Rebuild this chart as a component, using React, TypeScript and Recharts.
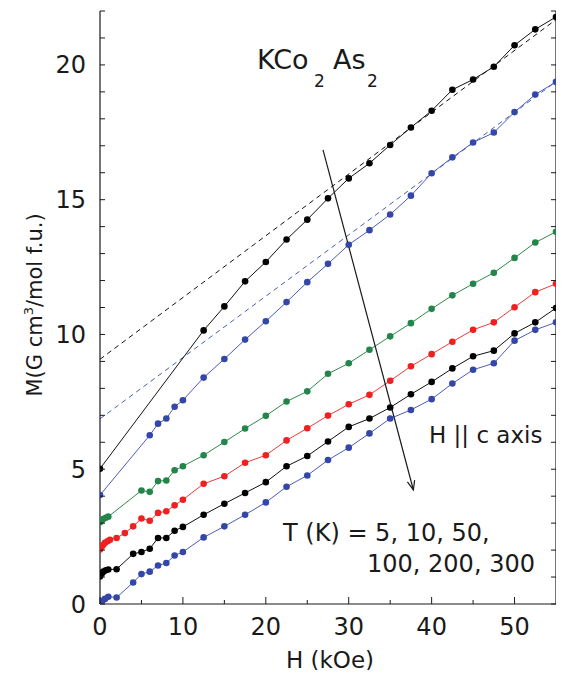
import React from 'react';
import { LineChart, Line, XAxis, YAxis, ReferenceLine } from 'recharts';

const FONT = '"DejaVu Sans", Verdana, sans-serif';
const INK = '#1a1a1a';

// layout constants
const CHART_W = 549;
const CHART_H = 662;
const Y_AXIS_W = 92;
const MARGIN_R = 1;
const PLOT_W = CHART_W - Y_AXIS_W - MARGIN_R;

// field values (kOe) shared by all temperatures above 10 kOe
const H_HIGH = [12.5, 15, 17.5, 20, 22.5, 25, 27.5, 30, 32.5, 35, 37.5, 40, 42.5, 45, 47.5, 50, 52.5, 55];

// low-field values per temperature
const H_LOW_5K = [0];
const H_LOW_10K = [0, 6, 7, 8, 9, 10];
const H_LOW_50K = [0, 0.2, 0.4, 0.7, 1.0, 5, 6, 7, 8, 9, 10];
const H_LOW_100K = [0, 0.2, 0.4, 0.6, 0.9, 1.2, 2, 3, 4, 5, 6, 7, 8, 9, 10];
const H_LOW_200K = [0, 0.2, 0.4, 0.7, 1.0, 2, 4, 5, 6, 7, 8, 9, 10];
const H_LOW_300K = [0, 0.3, 0.6, 1.0, 2, 4, 5, 6, 7, 8, 9, 10];

// magnetization M (G cm^3 / mol f.u.)
const M_5K = [5.02, 10.15, 11.04, 11.97, 12.69, 13.52, 14.26, 15.05, 15.79, 16.35, 17.03, 17.68, 18.3, 19.08, 19.46, 19.93, 20.73, 21.32, 21.78];
const M_10K = [4.04, 6.26, 6.69, 6.88, 7.32, 7.56, 8.4, 9.09, 9.81, 10.49, 11.2, 11.94, 12.62, 13.33, 13.87, 14.45, 15.15, 15.98, 16.57, 17.12, 17.49, 18.25, 18.9, 19.37];
const M_50K = [3.03, 3.1, 3.15, 3.2, 3.24, 4.21, 4.16, 4.56, 4.58, 4.96, 5.11, 5.52, 6.01, 6.51, 6.98, 7.51, 7.89, 8.54, 8.93, 9.43, 9.93, 10.42, 10.95, 11.45, 11.88, 12.29, 12.84, 13.41, 13.81];
const M_100K = [2.02, 2.12, 2.2, 2.27, 2.33, 2.38, 2.45, 2.63, 2.88, 3.17, 3.09, 3.38, 3.44, 3.66, 3.87, 4.46, 4.74, 5.24, 5.52, 6.07, 6.52, 6.99, 7.41, 7.76, 8.28, 8.82, 9.27, 9.73, 10.17, 10.45, 11.01, 11.57, 11.88];
const M_200K = [1.02, 1.12, 1.2, 1.25, 1.28, 1.29, 1.86, 1.93, 2.05, 2.45, 2.45, 2.72, 2.86, 3.31, 3.72, 4.12, 4.52, 5.11, 5.49, 6.03, 6.57, 6.88, 7.29, 7.78, 8.24, 8.74, 9.19, 9.4, 10.04, 10.45, 10.98];
const M_300K = [0.02, 0.12, 0.19, 0.27, 0.24, 0.8, 1.11, 1.2, 1.43, 1.52, 1.8, 1.93, 2.47, 2.88, 3.31, 3.77, 4.35, 4.77, 5.34, 5.8, 6.33, 6.88, 7.2, 7.6, 8.18, 8.69, 8.93, 9.77, 10.17, 10.45];

// high-field linear fits (dashed), endpoints
const FIT_5K_H = [0, 55];
const FIT_5K_M = [9.08, 21.68];
const FIT_10K_H = [0, 55];
const FIT_10K_M = [6.87, 19.38];

// guide arrow (direction of increasing temperature)
const ARROW_H = [26.9, 37.8];
const ARROW_M = [16.85, 4.23];

const X_MAX = 55;
const Y_MAX = 22;
const X_TICKS = [0, 5, 10, 15, 20, 25, 30, 35, 40, 45, 50];
const Y_TICKS = Array.from({ length: 23 }, (_, i) => i);

const zip = (hs: number[], ms: number[]) => hs.map((h, i) => ({ h, m: ms[i] }));

const data5K = zip([...H_LOW_5K, ...H_HIGH], M_5K);
const data10K = zip([...H_LOW_10K, ...H_HIGH], M_10K);
const data50K = zip([...H_LOW_50K, ...H_HIGH], M_50K);
const data100K = zip([...H_LOW_100K, ...H_HIGH], M_100K);
const data200K = zip([...H_LOW_200K, ...H_HIGH], M_200K);
const data300K = zip([...H_LOW_300K, ...H_HIGH], M_300K);
const fit5K = zip(FIT_5K_H, FIT_5K_M);
const fit10K = zip(FIT_10K_H, FIT_10K_M);
const arrowData = zip(ARROW_H, ARROW_M);

const SERIES = [
  { key: '5K', data: data5K, line: '#111111', dot: '#000000' },
  { key: '10K', data: data10K, line: '#4a5cbd', dot: '#3447a8' },
  { key: '50K', data: data50K, line: '#2f8a4c', dot: '#23854a' },
  { key: '100K', data: data100K, line: '#f03a3a', dot: '#ee2020' },
  { key: '200K', data: data200K, line: '#111111', dot: '#000000' },
  { key: '300K', data: data300K, line: '#4a5cbd', dot: '#3447a8' },
];

const BottomTick = (props: any) => {
  const { x, y, payload } = props;
  const v = payload.value;
  const major = v % 10 === 0;
  return (
    <g>
      <line x1={x} y1={y} x2={x} y2={y - (major ? 7 : 4)} stroke={INK} strokeWidth={1} />
      {major && (
        <text x={x} y={y + 31} textAnchor="middle" fontSize={24} fontFamily={FONT} fill={INK}>
          {v}
        </text>
      )}
    </g>
  );
};

const TopTick = (props: any) => {
  const { x, y, payload } = props;
  const major = payload.value % 10 === 0;
  return <line x1={x} y1={y} x2={x} y2={y + (major ? 7 : 4)} stroke={INK} strokeWidth={1} />;
};

// left ticks + labels, and the mirrored ticks on the right frame
const LeftTick = (props: any) => {
  const { x, y, payload } = props;
  const v = payload.value;
  const major = v % 5 === 0;
  const xr = x + PLOT_W;
  return (
    <g>
      <line x1={x} y1={y} x2={x + 5} y2={y} stroke={INK} strokeWidth={1} />
      <line x1={xr} y1={y} x2={xr - 5} y2={y} stroke={INK} strokeWidth={1} />
      {major && (
        <text x={x - 14} y={y + 8.5} textAnchor="end" fontSize={24} fontFamily={FONT} fill={INK}>
          {v}
        </text>
      )}
    </g>
  );
};

const ArrowHead = (props: any) => {
  const { cx, cy, index, points } = props;
  if (index !== 1 || cx == null) return <g key={`ah-${index}`} />;
  let ang = Math.atan2(cy - 150, cx - 300);
  if (points && points.length > 1) {
    ang = Math.atan2(points[1].y - points[0].y, points[1].x - points[0].x);
  }
  const len = 10;
  const spread = 0.38;
  const ax = cx - len * Math.cos(ang - spread);
  const ay = cy - len * Math.sin(ang - spread);
  const bx = cx - len * Math.cos(ang + spread);
  const by = cy - len * Math.sin(ang + spread);
  return (
    <polyline
      key={`ah-${index}`}
      points={`${ax},${ay} ${cx},${cy} ${bx},${by}`}
      fill="none"
      stroke={INK}
      strokeWidth={1.2}
    />
  );
};

export default function App() {
  return (
    <div style={{ position: 'relative', width: CHART_W, height: CHART_H }}>
      <LineChart width={CHART_W} height={CHART_H} margin={{ top: 3, right: MARGIN_R, bottom: 0, left: 0 }}>
        <XAxis
          xAxisId={0}
          dataKey="h"
          type="number"
          domain={[0, X_MAX]}
          allowDataOverflow
          ticks={X_TICKS}
          interval={0}
          height={66}
          tickSize={0}
          tickMargin={0}
          tickLine={false}
          axisLine={{ stroke: INK, strokeWidth: 1.2 }}
          tick={<BottomTick />}
        />
        <XAxis
          xAxisId="top"
          orientation="top"
          dataKey="h"
          type="number"
          domain={[0, X_MAX]}
          allowDataOverflow
          ticks={X_TICKS}
          interval={0}
          height={0}
          tickSize={0}
          tickMargin={0}
          tickLine={false}
          axisLine={{ stroke: INK, strokeWidth: 1.2 }}
          tick={<TopTick />}
        />
        <YAxis
          yAxisId={0}
          type="number"
          domain={[0, Y_MAX]}
          allowDataOverflow
          ticks={Y_TICKS}
          interval={0}
          width={Y_AXIS_W}
          tickSize={0}
          tickMargin={0}
          tickLine={false}
          axisLine={{ stroke: INK, strokeWidth: 1.2 }}
          tick={<LeftTick />}
        />
        <ReferenceLine x={X_MAX} stroke={INK} strokeWidth={1.2} ifOverflow="visible" />
        <Line
          data={fit5K}
          dataKey="m"
          stroke="#111111"
          strokeWidth={1}
          strokeDasharray="5 4"
          dot={false}
          isAnimationActive={false}
        />
        <Line
          data={fit10K}
          dataKey="m"
          stroke="#4a5cbd"
          strokeWidth={1}
          strokeDasharray="5 4"
          dot={false}
          isAnimationActive={false}
        />
        {SERIES.map((s) => (
          <Line
            key={s.key}
            data={s.data}
            dataKey="m"
            stroke={s.line}
            strokeWidth={1}
            dot={{ r: 3.3, fill: s.dot, stroke: 'none' }}
            activeDot={false}
            isAnimationActive={false}
          />
        ))}
        <Line
          data={arrowData}
          dataKey="m"
          stroke={INK}
          strokeWidth={1.2}
          dot={<ArrowHead />}
          activeDot={false}
          isAnimationActive={false}
        />
      </LineChart>
      <svg
        width={CHART_W}
        height={CHART_H}
        style={{ position: 'absolute', left: 0, top: 0, pointerEvents: 'none', overflow: 'visible' }}
        fontFamily={FONT}
        fill={INK}
      >
        <text fontSize={27}>
          <tspan x={249} y={61}>KCo</tspan>
          <tspan x={306} y={79} fontSize={17}>2</tspan>
          <tspan x={325} y={61}>As</tspan>
          <tspan x={359} y={79} fontSize={17}>2</tspan>
        </text>
        <text x={421} y={435} fontSize={23}>H || c axis</text>
        <text x={275} y={533} fontSize={24}>T (K) = 5, 10, 50,</text>
        <text x={359} y={564} fontSize={24}>100, 200, 300</text>
        <text x={322} y={660} fontSize={23} textAnchor="middle">H (kOe)</text>
        <text transform="translate(34, 297) rotate(-90)" textAnchor="middle" fontSize={21}>
          <tspan>M(G cm</tspan>
          <tspan fontSize={13} dy={-9}>3</tspan>
          <tspan dy={9}>/mol f.u.)</tspan>
        </text>
      </svg>
    </div>
  );
}
